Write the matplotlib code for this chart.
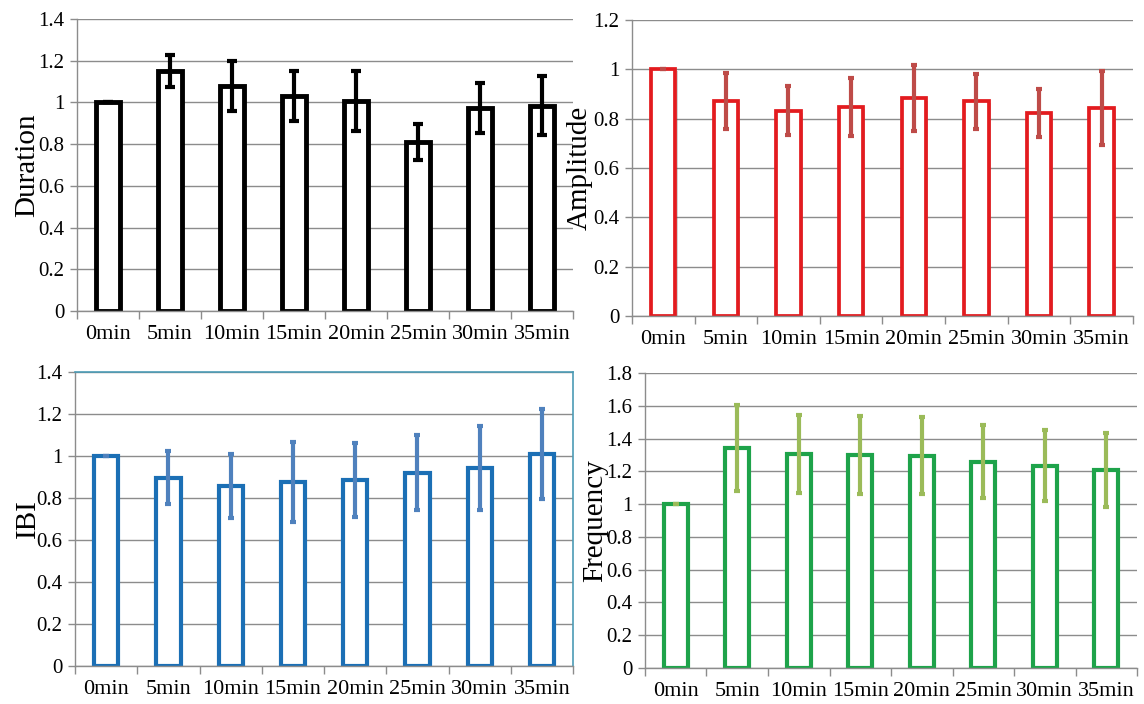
import numpy as np
import matplotlib
matplotlib.use("Agg")
import matplotlib.pyplot as plt
import matplotlib.patheffects as pe
from matplotlib.ticker import FuncFormatter

# data
times = ["0min", "5min", "10min", "15min", "20min", "25min", "30min", "35min"]

duration = [1.0, 1.152, 1.079, 1.032, 1.008, 0.812, 0.972, 0.985]
duration_err = [0.0, 0.076, 0.12, 0.119, 0.144, 0.087, 0.12, 0.143]

amplitude = [1.0, 0.872, 0.833, 0.848, 0.882, 0.870, 0.822, 0.844]
amplitude_err = [0.0, 0.112, 0.099, 0.118, 0.134, 0.110, 0.098, 0.149]

ibi = [1.0, 0.897, 0.858, 0.877, 0.886, 0.921, 0.943, 1.010]
ibi_err = [0.0, 0.127, 0.153, 0.190, 0.177, 0.178, 0.198, 0.215]

frequency = [1.0, 1.341, 1.307, 1.300, 1.296, 1.260, 1.235, 1.209]
frequency_err = [0.0, 0.263, 0.240, 0.237, 0.237, 0.225, 0.217, 0.226]

plt.rcParams['font.family'] = ['Liberation Serif', 'DejaVu Serif']

W, H = 1144, 704
fig = plt.figure(figsize=(W / 100, H / 100), dpi=100)

GRID = '#8c8c8c'

def panel(rect, vals, errs, ylabel, ymax, edge, ecol, lw, capsize, label_x):
    ax = fig.add_axes(rect)
    x = np.arange(len(times))
    ax.bar(x, vals, width=0.39, facecolor='white', edgecolor=edge, linewidth=lw,
           zorder=2,
           path_effects=[pe.SimplePatchShadow(offset=(1.5, -1.5), alpha=0.25),
                         pe.Normal()])
    ax.errorbar(x, vals, yerr=errs, fmt='none', ecolor=ecol, elinewidth=3,
                capsize=capsize, capthick=3, zorder=3)
    ax.set_xlim(-0.5, len(times) - 0.5)
    ax.set_ylim(0, ymax)
    ax.set_yticks(np.arange(0, ymax + 0.001, 0.2))
    ax.yaxis.set_major_formatter(FuncFormatter(lambda v, p: f"{v:g}"))
    ax.set_xticks(x)
    ax.set_xticklabels(times)
    ax.set_xticks(np.arange(-0.5, len(times)), minor=True)
    ax.tick_params(axis='x', which='major', length=0, pad=10, labelsize=16)
    ax.tick_params(axis='x', which='minor', length=6, color=GRID, width=1)
    ax.tick_params(axis='y', length=5, color=GRID, width=1, labelsize=15, pad=4)
    ax.grid(axis='y', color=GRID, linewidth=1)
    ax.set_axisbelow(True)
    for s in ['top', 'right']:
        ax.spines[s].set_visible(False)
    for s in ['left', 'bottom']:
        ax.spines[s].set_color(GRID)
        ax.spines[s].set_linewidth(1)
    ax.set_ylabel(ylabel, fontsize=21)
    ax.yaxis.set_label_coords(label_x, 0.5)
    return ax

ax1 = panel([0.0673, 0.5582, 0.4336, 0.4148], duration, duration_err, 'Duration',
            1.4, 'black', 'black', 3.5, 3.5, -0.075)
ax2 = panel([0.5524, 0.5511, 0.4379, 0.4205], amplitude, amplitude_err, 'Amplitude',
            1.2, '#e31b1f', '#be4b48', 2.7, 2, -0.078)
ax3 = panel([0.0656, 0.0540, 0.4353, 0.4176], ibi, ibi_err, 'IBI',
            1.4, '#1b6fb5', '#4f81bd', 3.0, 2, -0.068)
ax4 = panel([0.5638, 0.0511, 0.4301, 0.4190], frequency, frequency_err, 'Frequency',
            1.8, '#1ea34a', '#9bbb59', 3.0, 2, -0.075)

# the IBI panel has a framed plot area
for s in ['top', 'right']:
    ax3.spines[s].set_visible(True)
    ax3.spines[s].set_color('#4b9bb5')
    ax3.spines[s].set_linewidth(1.2)

fig.savefig('out.png', dpi=100)
